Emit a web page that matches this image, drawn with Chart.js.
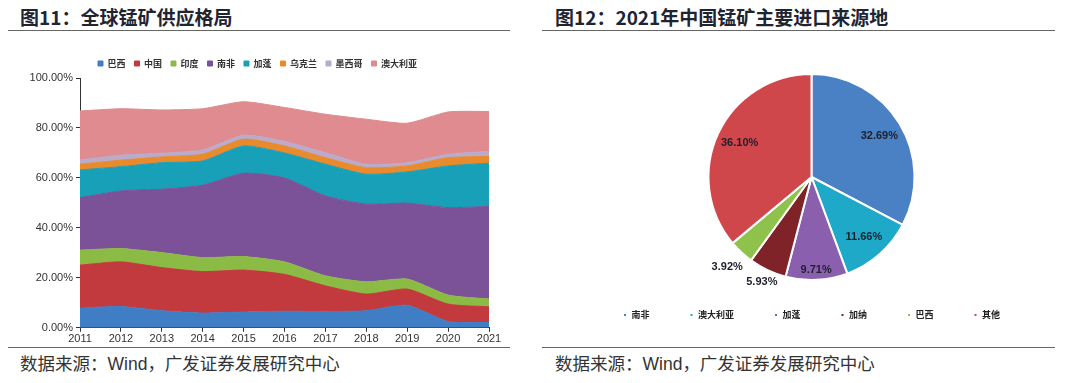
<!DOCTYPE html>
<html>
<head>
<meta charset="utf-8">
<script src="https://cdn.jsdelivr.net/npm/chart.js@4.4.1/dist/chart.umd.min.js"></script>
<style>
    body { margin: 0; background: #fff; width: 1080px; height: 383px; position: relative; overflow: hidden; font-family: "Noto Sans CJK SC", sans-serif; }
    .title { position: absolute; top: 3px; font-size: 19px; font-weight: bold; color: #1f2433; white-space: nowrap; }
    .rule { position: absolute; height: 0; border-top: 1.5px solid #666; }
    .src { position: absolute; top: 351px; font-size: 17.5px; color: #333; white-space: nowrap; line-height: 24px; }
    .src span { font-family: "Liberation Sans", Arial, sans-serif; }
    .box { position: absolute; }
</style>
</head>
<body>
<div class="title" style="left:20px;">图11：全球锰矿供应格局</div>
<div class="title" style="left:555px;">图12：2021年中国锰矿主要进口来源地</div>
<div class="rule" style="left:8px;top:30px;width:502px;"></div>
<div class="rule" style="left:542px;top:30px;width:513px;"></div>

<div class="box" style="left:0;top:40px;width:520px;height:307px;"><canvas id="supplyChart"></canvas></div>
<div class="box" style="left:540px;top:40px;width:540px;height:306px;"><canvas id="importChart"></canvas></div>

<div class="rule" style="left:8px;top:347px;width:502px;"></div>
<div class="rule" style="left:542px;top:347px;width:513px;"></div>
<div class="src" style="left:20px;">数据来源：<span>Wind</span>，广发证券发展研究中心</div>
<div class="src" style="left:555px;">数据来源：<span>Wind</span>，广发证券发展研究中心</div>

<script>
// 图11 全球锰矿供应格局 (% share, bottom to top)
const years       = ['2011','2012','2013','2014','2015','2016','2017','2018','2019','2020','2021'];
const brazil      = [7.9, 8.5, 6.8, 5.9, 6.3, 6.6, 6.5, 6.8, 9.0, 2.5, 2.1];
const china       = [17.2, 17.9, 17.3, 16.6, 16.8, 14.8, 10.3, 6.7, 6.5, 7.0, 6.3];
const india       = [6.0, 5.3, 6.0, 5.6, 5.4, 5.0, 4.0, 4.9, 4.0, 3.6, 3.1];
const southAfrica = [21.0, 23.1, 25.4, 29.0, 33.4, 33.6, 32.0, 31.1, 30.4, 35.0, 37.1];
const gabon       = [11.1, 9.7, 10.6, 9.7, 10.9, 10.0, 12.7, 12.0, 12.5, 16.7, 17.3];
const ukraine     = [2.3, 2.6, 2.3, 2.7, 2.7, 2.8, 2.6, 2.6, 2.4, 3.3, 2.7];
const mexico      = [1.7, 2.0, 1.5, 1.7, 1.6, 1.8, 2.0, 1.4, 1.3, 1.4, 2.0];
const australia   = [19.6, 18.6, 17.3, 16.5, 13.4, 13.6, 15.4, 18.0, 15.8, 16.9, 16.0];
const yTicks      = [0, 20, 40, 60, 80, 100];

// 图12 2021年中国锰矿主要进口来源地
const sources     = ['南非', '澳大利亚', '加蓬', '加纳', '巴西', '其他'];
const importShare = [32.69, 11.66, 9.71, 5.93, 3.92, 36.10];

const SERIES = [
    { label: '巴西',     data: brazil,      color: '#3f7ec5' },
    { label: '中国',     data: china,       color: '#c23a3d' },
    { label: '印度',     data: india,       color: '#8cbb45' },
    { label: '南非',     data: southAfrica, color: '#7b5198' },
    { label: '加蓬',     data: gabon,       color: '#19a0b9' },
    { label: '乌克兰',   data: ukraine,     color: '#e98a2c' },
    { label: '墨西哥',   data: mexico,      color: '#b9abc9' },
    { label: '澳大利亚', data: australia,   color: '#df8b8f' },
];
const PIE_COLORS = ['#4a80c4', '#1fa9c9', '#8a60ae', '#7f2328', '#8fc24a', '#cf464b'];

const tickFont   = { family: '"Liberation Sans", Arial, sans-serif', size: 11 };
const legendFont = { family: '"Noto Sans CJK SC", sans-serif', size: 9, weight: 'bold' };

new Chart(document.getElementById('supplyChart'), {
    type: 'line',
    data: {
        labels: years,
        datasets: SERIES.map((s, i) => ({
            label: s.label,
            data: s.data,
            backgroundColor: s.color,
            borderColor: s.color,
            borderWidth: 1,
            pointRadius: 0,
            tension: 0.2,
            fill: i === 0 ? 'origin' : '-1',
        }))
    },
    options: {
        responsive: true,
        maintainAspectRatio: false,
        animation: false,
        layout: { padding: { left: 26, right: 31, top: 10, bottom: 0 } },
        plugins: {
            legend: { position: 'top', labels: { font: legendFont, color: '#333', boxWidth: 5, boxHeight: 5, padding: 9 } },
            tooltip: { enabled: false },
        },
        scales: {
            x: {
                offset: false,
                grid: { drawOnChartArea: false, tickLength: 4, color: '#333' },
                border: { color: '#333' },
                ticks: { font: tickFont, color: '#333', padding: 1, maxRotation: 0 },
            },
            y: {
                stacked: true,
                min: 0, max: 100,
                afterFit: scale => { scale.width = 54; },
                afterBuildTicks: scale => { scale.ticks = yTicks.map(v => ({ value: v })); },
                grid: { drawOnChartArea: false, tickLength: 4, color: '#333' },
                border: { color: '#333' },
                ticks: { font: tickFont, color: '#333', padding: 3, callback: v => v.toFixed(2) + '%' },
            }
        }
    }
});

const pieLabels = {
    id: 'pieLabels',
    afterDatasetsDraw(chart) {
        const ctx = chart.ctx;
        ctx.save();
        ctx.font = 'bold 11px "Liberation Sans", Arial, sans-serif';
        ctx.fillStyle = '#1d1f2b';
        ctx.textAlign = 'center';
        ctx.textBaseline = 'middle';
        chart.getDatasetMeta(0).data.forEach((arc, i) => {
            const p = arc.getProps(['x', 'y', 'startAngle', 'endAngle', 'outerRadius'], true);
            const mid = (p.startAngle + p.endAngle) / 2;
            const v = importShare[i];
            // small slices sit outside the pie
            const f = v < 5 ? 1.2 : (v < 7 ? 1.13 : (v < 10 ? 0.9 : 0.77));
            ctx.fillText(v.toFixed(2) + '%', p.x + Math.cos(mid) * p.outerRadius * f, p.y + Math.sin(mid) * p.outerRadius * f);
        });
        ctx.restore();
    }
};

new Chart(document.getElementById('importChart'), {
    type: 'pie',
    data: {
        labels: sources,
        datasets: [{ data: importShare, backgroundColor: PIE_COLORS, borderColor: '#fff', borderWidth: 2, radius: 103, clip: false }]
    },
    options: {
        responsive: true,
        maintainAspectRatio: false,
        animation: false,
        layout: { padding: { left: 3, right: 0, top: 43.5, bottom: 16.5 } },
        plugins: {
            legend: { position: 'bottom', labels: { font: legendFont, color: '#222', boxWidth: 4, boxHeight: 4, padding: 40 } },
            tooltip: { enabled: false },
        }
    },
    plugins: [pieLabels]
});
</script>
</body>
</html>
